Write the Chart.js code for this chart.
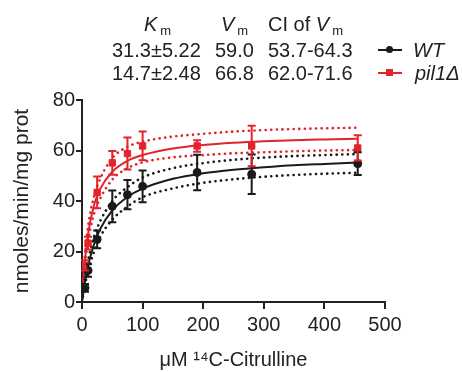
<!DOCTYPE html>
<html>
<head>
<meta charset="utf-8">
<script src="https://cdn.jsdelivr.net/npm/chart.js@4"></script>
<style>
  html, body { margin: 0; padding: 0; background: #fff; }
  #wrap { position: relative; width: 462px; height: 372px; font-family: "Liberation Sans", Arial, sans-serif; color: #222; }
  canvas { position: absolute; left: 0; top: 0; }
  .t { position: absolute; font-size: 20px; white-space: nowrap; line-height: 1; }
  .t sub { font-size: 13px; vertical-align: -4px; margin-left: 3px; }
  .leg { position: absolute; height: 2px; width: 24px; }
  .dot { position: absolute; width: 7px; height: 7px; border-radius: 50%; }
  .sq { position: absolute; width: 7px; height: 7px; }
</style>
</head>
<body>
<div id="wrap">
  <canvas id="c" width="462" height="372"></canvas>
  <div class="t" style="left:144px; top:14px;"><i>K</i><sub>m</sub></div>
  <div class="t" style="left:221px; top:14px;"><i>V</i><sub>m</sub></div>
  <div class="t" style="left:268px; top:14px;">CI of <i>V</i><sub>m</sub></div>
  <div class="t" id="r1a" style="left:112px; top:40px;"></div>
  <div class="t" id="r1b" style="left:215px; top:40px;"></div>
  <div class="t" id="r1c" style="left:268px; top:40px;"></div>
  <div class="t" id="r2a" style="left:112px; top:63px;"></div>
  <div class="t" id="r2b" style="left:215px; top:63px;"></div>
  <div class="t" id="r2c" style="left:268px; top:63px;"></div>
  <div class="leg" style="left:378px; top:49px; background:#1a1a1a;"></div>
  <div class="dot" style="left:386px; top:46px; background:#1a1a1a;"></div>
  <div class="t" style="left:413px; top:40px;"><i>WT</i></div>
  <div class="leg" style="left:378px; top:72px; background:#e3232b;"></div>
  <div class="sq" style="left:386px; top:69px; background:#e3232b;"></div>
  <div class="t" style="left:415px; top:63px;"><i>pil1Δ</i></div>
</div>
<script>
// ---- table values ----
const seriesNames = ["WT", "pil1Δ"];
const kmText = ["31.3±5.22", "14.7±2.48"];
const vmText = ["59.0", "66.8"];
const ciText = ["53.7-64.3", "62.0-71.6"];

// ---- measured points ----
const substrate = [5, 10, 25, 50, 75, 100, 190, 280, 455];
const wtMean = [5.6, 12.5, 24.8, 37.9, 42.5, 45.8, 51.3, 50.6, 54.8];
const wtErr  = [1.5, 2.5, 3.5, 6.3, 5.8, 6.3, 7.0, 7.8, 4.5];
const pilMean = [14.5, 23.3, 43.4, 55.1, 58.8, 61.8, 61.8, 61.8, 61.0];
const pilErr  = [2.0, 2.5, 6.3, 4.7, 6.3, 5.7, 2.3, 8.0, 5.0];

// ---- fitted curves and 95% bands ----
const fitX = [0, 5, 10, 20, 30, 50, 75, 100, 150, 200, 250, 300, 350, 400, 455];
const wtFit   = [0, 8.1, 14.3, 23.0, 28.9, 36.3, 41.6, 44.9, 48.8, 51.0, 52.4, 53.4, 54.2, 54.7, 55.2];
const wtUpper = [0, 9.5, 16.5, 26.0, 32.0, 40.0, 45.5, 49.3, 53.0, 55.0, 56.3, 57.2, 57.8, 58.2, 58.6];
const wtLower = [0, 6.8, 12.2, 20.0, 25.8, 32.6, 37.8, 41.5, 45.0, 47.2, 48.6, 49.6, 50.3, 50.8, 51.2];
const pilFit   = [0, 17.0, 27.0, 38.5, 44.8, 51.6, 55.9, 58.2, 60.8, 62.2, 63.1, 63.7, 64.1, 64.4, 64.7];
const pilUpper = [0, 19.0, 30.0, 42.0, 48.8, 57.0, 61.5, 63.5, 65.5, 66.6, 67.5, 68.1, 68.5, 68.8, 69.0];
const pilLower = [0, 15.0, 24.0, 35.0, 41.0, 48.5, 53.0, 55.3, 57.3, 58.2, 58.9, 59.3, 59.7, 60.0, 60.2];

// ---- axis ticks ----
const xTicks = [0, 100, 200, 300, 400, 500];
const yTicks = [0, 20, 40, 60, 80];

document.getElementById('r1a').textContent = kmText[0];
document.getElementById('r1b').textContent = vmText[0];
document.getElementById('r1c').textContent = ciText[0];
document.getElementById('r2a').textContent = kmText[1];
document.getElementById('r2b').textContent = vmText[1];
document.getElementById('r2c').textContent = ciText[1];

const BLACK = '#1a1a1a';
const RED = '#e3232b';
const FONT = "'Liberation Sans', Arial, sans-serif";

const toXY = (xs, ys) => xs.map((x, i) => ({ x: x, y: ys[i] }));

function curve(label, xs, ys, color, dotted) {
  return {
    label: label,
    data: toXY(xs, ys),
    borderColor: color,
    borderWidth: dotted ? 2.6 : 2,
    borderDash: dotted ? [0.1, 5.5] : [],
    borderCapStyle: dotted ? 'round' : 'butt',
    pointRadius: 0,
    cubicInterpolationMode: 'monotone',
    fill: false,
    order: 2
  };
}

const errorBars = {
  id: 'errorBars',
  afterDatasetsDraw(chart) {
    const ctx = chart.ctx;
    const xs = chart.scales.x, ys = chart.scales.y;
    chart.data.datasets.forEach((ds, di) => {
      if (!ds.errors) return;
      ctx.save();
      ctx.strokeStyle = ds.borderColor;
      ctx.lineWidth = 2;
      ds.data.forEach((p, i) => {
        const px = xs.getPixelForValue(p.x);
        const top = ys.getPixelForValue(p.y + ds.errors[i]);
        const bot = ys.getPixelForValue(Math.max(0, p.y - ds.errors[i]));
        ctx.beginPath();
        ctx.moveTo(px, top); ctx.lineTo(px, bot);
        ctx.moveTo(px - 4, top); ctx.lineTo(px + 4, top);
        ctx.moveTo(px - 4, bot); ctx.lineTo(px + 4, bot);
        ctx.stroke();
      });
      ctx.restore();
    });
  }
};

new Chart(document.getElementById('c'), {
  type: 'line',
  data: {
    datasets: [
      curve('WT fit', fitX, wtFit, BLACK, false),
      curve('WT upper', fitX, wtUpper, BLACK, true),
      curve('WT lower', fitX, wtLower, BLACK, true),
      curve('pil1Δ fit', fitX, pilFit, RED, false),
      curve('pil1Δ upper', fitX, pilUpper, RED, true),
      curve('pil1Δ lower', fitX, pilLower, RED, true),
      {
        label: seriesNames[0],
        data: toXY(substrate, wtMean),
        errors: wtErr,
        showLine: false,
        borderColor: BLACK,
        backgroundColor: BLACK,
        pointStyle: 'circle',
        pointRadius: 4,
        order: 1
      },
      {
        label: seriesNames[1],
        data: toXY(substrate, pilMean),
        errors: pilErr,
        showLine: false,
        borderColor: RED,
        backgroundColor: RED,
        pointStyle: 'rect',
        pointRadius: 4.5,
        order: 0
      }
    ]
  },
  options: {
    responsive: false,
    animation: false,
    devicePixelRatio: 1,
    layout: { padding: { top: 100, right: 77, left: 0, bottom: 0 } },
    plugins: { legend: { display: false }, tooltip: { enabled: false } },
    scales: {
      x: {
        type: 'linear',
        min: 0, max: 500,
        afterBuildTicks: s => { s.ticks = xTicks.map(v => ({ value: v })); },
        afterFit: s => { s.height = 70; },
        ticks: { color: '#222', font: { family: FONT, size: 20 }, padding: 4, maxRotation: 0 },
        grid: { display: true, drawOnChartArea: false, drawTicks: true, tickLength: 7, color: '#222', lineWidth: 2 },
        border: { display: true, color: '#222', width: 2 },
        title: { display: true, text: 'μM ¹⁴C-Citrulline', color: '#222', font: { family: FONT, size: 20 }, padding: { top: 4, bottom: 0 } }
      },
      y: {
        min: 0, max: 80,
        afterBuildTicks: s => { s.ticks = yTicks.map(v => ({ value: v })); },
        afterFit: s => { s.width = 82; },
        ticks: { color: '#222', font: { family: FONT, size: 20 }, padding: 1 },
        grid: { display: true, drawOnChartArea: false, drawTicks: true, tickLength: 6, color: '#222', lineWidth: 2 },
        border: { display: true, color: '#222', width: 2 },
        title: { display: true, text: 'nmoles/min/mg prot', color: '#222', font: { family: FONT, size: 21 }, padding: { top: 10, bottom: 0 } }
      }
    }
  },
  plugins: [errorBars]
});
</script>
</body>
</html>
